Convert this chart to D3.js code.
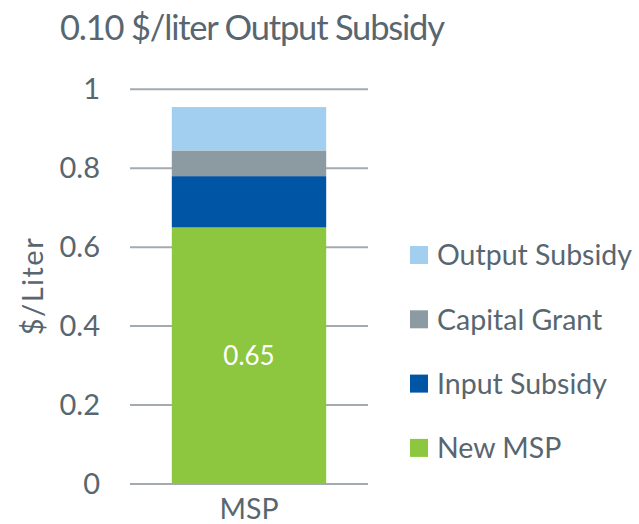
<!DOCTYPE html>
<html>
<head>
<meta charset="utf-8">
<script src="https://cdn.jsdelivr.net/npm/d3@7"></script>
<style>
  body { margin: 0; background: #fff; }
  text { font-family: Lato, "Open Sans", sans-serif; fill: #586670; }
</style>
</head>
<body>
<svg id="chart" width="639" height="524"></svg>
<script>
// chart data
const categories = ["MSP"];
const seriesNames = ["New MSP", "Input Subsidy", "Capital Grant", "Output Subsidy"];
const seriesValues = {
  "New MSP": [0.65],
  "Input Subsidy": [0.13],
  "Capital Grant": [0.065],
  "Output Subsidy": [0.11]
};
const seriesColors = ["#8dc63f", "#0055a5", "#8c9aa2", "#a2cff0"];
const yTicks = [0, 0.2, 0.4, 0.6, 0.8, 1];
const titleText = "0.10 $/liter Output Subsidy";

const svg = d3.select("#chart");

const x = d3.scaleBand()
  .domain(categories)
  .range([130, 368])
  .paddingInner(0.35)
  .paddingOuter(0.176);

const y = d3.scaleLinear()
  .domain([0, 1])
  .range([484, 89.3]);

// build the stack from the named arrays
const rows = categories.map((c, i) => {
  const r = { category: c };
  seriesNames.forEach(s => { r[s] = seriesValues[s][i]; });
  return r;
});
const stacked = d3.stack().keys(seriesNames)(rows);

// title
svg.append("text")
  .attr("x", 60)
  .attr("y", 40)
  .attr("font-size", 34.5)
  .attr("letter-spacing", -1.2)
  .text(titleText);

// tick labels
const yAxis = d3.axisLeft(y)
  .tickValues(yTicks)
  .tickSize(0)
  .tickPadding(30)
  .tickFormat(d => d3.format("~g")(d));

const gAxis = svg.append("g")
  .attr("transform", "translate(130,0)")
  .call(yAxis);
gAxis.select(".domain").remove();
gAxis.selectAll("text")
  .attr("font-size", 29)
  .attr("font-family", null)
  .style("fill", "#586670");

// gridlines
svg.append("g")
  .selectAll("line")
  .data(yTicks)
  .enter().append("line")
  .attr("x1", 130)
  .attr("x2", 368)
  .attr("y1", d => y(d))
  .attr("y2", d => y(d))
  .attr("stroke", "#a3abb1")
  .attr("stroke-width", 2);

// bars
svg.append("g")
  .selectAll("g")
  .data(stacked)
  .enter().append("g")
  .attr("fill", (d, i) => seriesColors[i])
  .selectAll("rect")
  .data(d => d)
  .enter().append("rect")
  .attr("x", d => x(d.data.category))
  .attr("width", x.bandwidth())
  .attr("y", d => y(d[1]))
  .attr("height", d => y(d[0]) - y(d[1]));

// value label on New MSP
const base = stacked[0][0];
svg.append("text")
  .attr("x", x(categories[0]) + x.bandwidth() / 2)
  .attr("y", (y(base[0]) + y(base[1])) / 2)
  .attr("text-anchor", "middle")
  .attr("dy", "0.36em")
  .attr("font-size", 26)
  .style("fill", "#fff")
  .text(d3.format(".2f")(base[1] - base[0]));

// category label
svg.append("text")
  .attr("x", x(categories[0]) + x.bandwidth() / 2)
  .attr("y", 519)
  .attr("text-anchor", "middle")
  .attr("font-size", 28.5)
  .text(categories[0]);

// y axis title
svg.append("text")
  .attr("transform", "translate(43,286) rotate(-90)")
  .attr("text-anchor", "middle")
  .attr("font-size", 29)
  .attr("letter-spacing", 1.5)
  .text("$/Liter");

// legend, top item is the last series
const legendItems = seriesNames.slice().reverse();
const legend = svg.append("g")
  .selectAll("g")
  .data(legendItems)
  .enter().append("g")
  .attr("transform", (d, i) => `translate(410,${255 + i * 64.3})`);

legend.append("rect")
  .attr("x", 0)
  .attr("y", -9)
  .attr("width", 18)
  .attr("height", 18)
  .attr("fill", d => seriesColors[seriesNames.indexOf(d)]);

legend.append("text")
  .attr("x", 27)
  .attr("dy", "0.36em")
  .attr("font-size", 28.5)
  .text(d => d);
</script>
</body>
</html>
